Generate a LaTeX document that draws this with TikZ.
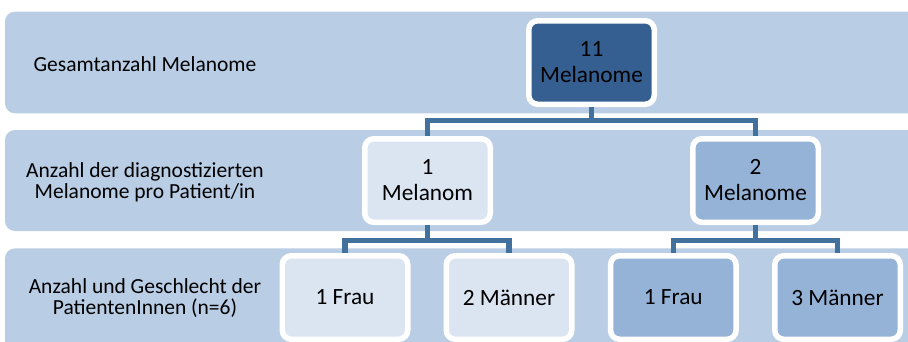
\documentclass[tikz,border=0pt]{standalone}
\usepackage{fontspec}
\setmainfont{Carlito}
\definecolor{band}{HTML}{B9CDE5}
\definecolor{dark}{HTML}{365F91}
\definecolor{light}{HTML}{DBE5F1}
\definecolor{mid}{HTML}{95B3D7}
\definecolor{conn}{HTML}{41719C}
\begin{document}
\begin{tikzpicture}[x=1pt,y=-1pt,
  bandbox/.style={fill=band,rounded corners=10pt},
  lbl/.style={align=center,font=\fontsize{21.5}{21}\selectfont,inner sep=0pt},
  box/.style={draw=white,line width=5.5pt,rounded corners=9pt,minimum width=125.5pt,minimum height=83.5pt,align=center,font=\fontsize{23.3}{26}\selectfont,inner sep=0pt},
  link/.style={draw=conn,line width=5.5pt}]
\useasboundingbox (0,0) rectangle (908,341);
\fill[white] (0,0) rectangle (908,341);
\begin{scope}
\clip (0,0) rectangle (908,341);
\path[bandbox] (5,11.7) rectangle (930,113.3);
\path[bandbox] (5,130) rectangle (930,231);
\path[bandbox] (5,248.3) rectangle (930,380);
\node[lbl] (l1) at (145,64.2) {Gesamtanzahl Melanome};
\node[lbl] (l2) at (145,181.9) {Anzahl der diagnostizierten\\Melanome pro Patient/in};
\node[lbl] (l3) at (145,298) {Anzahl und Geschlecht der\\PatientenInnen (n=6)};
\node[box,fill=dark] (top) at (591.5,62.5) {11\\Melanome};
\node[box,fill=light] (m1) at (427.5,180.5) {1\\Melanom};
\node[box,fill=mid] (m2) at (755.5,180.5) {2\\Melanome};
\node[box,fill=light] (b1) at (345,297.5) {1 Frau};
\node[box,fill=light] (b2) at (509,297.5) {2 Männer};
\node[box,fill=mid] (b3) at (673.3,297.5) {1 Frau};
\node[box,fill=mid] (b4) at (837.5,297.5) {3 Männer};
\coordinate (j1) at (591.5,120.5);
\coordinate (j2) at (427.5,240.7);
\coordinate (j3) at (755.5,240.7);
\draw[link] (top.south) -- (j1);
\draw[link] (j1) -| (m1.north);
\draw[link] (j1) -| (m2.north);
\draw[link] (m1.south) -- (j2);
\draw[link] (j2) -| (b1.north);
\draw[link] (j2) -| (b2.north);
\draw[link] (m2.south) -- (j3);
\draw[link] (j3) -| (b3.north);
\draw[link] (j3) -| (b4.north);
\end{scope}
\end{tikzpicture}
\end{document}
